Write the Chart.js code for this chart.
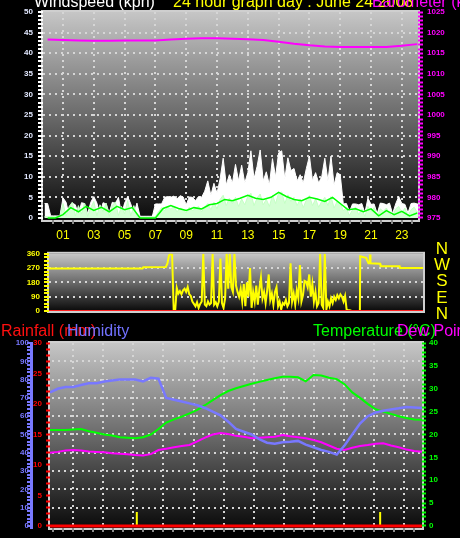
<!DOCTYPE html>
<html lang="en">
<head>
<meta charset="UTF-8" />
<script src="https://cdn.jsdelivr.net/npm/chart.js@4.4.1/dist/chart.umd.min.js"></script>
<style>
  html, body { margin: 0; padding: 0; background: #000; }
  #page { position: relative; width: 460px; height: 538px; overflow: hidden; background: #000;
          font-family: "Liberation Sans", Arial, sans-serif; }
  canvas { position: absolute; left: 0; }
  .t { position: absolute; white-space: nowrap; font-size: 16px; line-height: 16px; }
  #compass { position: absolute; left: 432px; top: 241px; width: 20px; text-align: center;
             color: #ffff00; font-size: 17px; line-height: 16.2px; }
</style>
</head>
<body>
<div id="page">
  <canvas id="windChart" width="460" height="245" style="top:0"></canvas>
  <canvas id="dirChart" width="460" height="75" style="top:245px"></canvas>
  <canvas id="climateChart" width="460" height="218" style="top:320px"></canvas>

  <div class="t" style="left:34px;top:-6px;color:#ffffff">Windspeed (kph)</div>
  <div class="t" style="left:173px;top:-6px;color:#ffff00">24 hour graph day : June 24 2008</div>
  <div class="t" style="left:372px;top:-6px;color:#ff00ff">Barometer (kPa)</div>

  <div id="compass">N<br>W<br>S<br>E<br>N</div>

  <div class="t" style="left:1px;top:323px;color:#ff1010">Rainfall (mm)</div>
  <div class="t" style="left:67px;top:323px;color:#7272ff">Humidity</div>
  <div class="t" style="left:313px;top:323px;color:#00ff00">Temperature (°C)</div>
  <div class="t" style="left:397px;top:323px;color:#ff00ff">Dew Point</div>
</div>
<script>
// ---- wind (kph), samples every 0.2 h starting at -0.2 h
const windHours = seq(-0.2, 0.2, 123)
const windGust = [
	3.5,
	3.5, 0.5, 0.5, 0.5, 0.5,
	4.9, 3.8, 0.5, 3.6, 3.2,
	0.8, 3.7, 3.5, 1.0, 3.8,
	5.2, 3.6, 0.8, 3.7, 3.4,
	1.2, 3.8, 3.5, 5.0, 0.8,
	3.6, 5.2, 3.4, 1.0, 3.6,
	0.4, 0.4, 0.4, 0.4, 0.4,
	3.4, 3.4, 3.4, 5.0, 5.2,
	5.0, 5.3, 4.6, 5.4, 5.1,
	3.2, 5.1, 5.0, 4.2, 5.2,
	5.0, 6.5, 9.0, 5.5, 8.4,
	6.0, 9.5, 14.5, 8.0, 10.5,
	8.5, 13.0, 9.0, 12.8, 8.5,
	11.0, 16.3, 9.5, 12.5, 16.5,
	9.0, 11.2, 8.0, 14.4, 10.0,
	15.8, 16.3, 9.5, 14.6, 11.5,
	12.0, 9.0, 10.5, 8.5, 12.0,
	15.0, 9.0, 11.0, 8.5, 10.0,
	14.5, 9.0, 15.0, 8.0, 11.0,
	10.5, 3.4, 3.5, 1.5, 3.4,
	3.4, 3.2, 3.5, 1.2, 4.8,
	3.3, 3.4, 1.0, 3.6, 3.5,
	3.2, 3.6, 1.0, 3.4, 5.2,
	3.5, 3.3, 1.2, 3.5, 3.6,
	3.4, 3.4,
]
const windSpeed = [
	0.3,
	0.3, 0.3, 0.3, 0.3, 0.3,
	3.5, 0.5, 2.8, 3.8, 0.5,
	3.0, 1.0, 3.6, 0.4, 2.5,
	4.0, 0.5, 3.2, 1.5, 3.6,
	0.4, 3.0, 3.9, 0.6, 2.8,
	1.0, 4.2, 0.5, 3.0, 0.4,
	0.2, 0.2, 0.2, 0.2, 0.2,
	0.3, 1.5, 2.5, 1.8, 2.6,
	2.2, 2.8, 1.5, 2.4, 2.0,
	1.2, 2.6, 1.8, 2.2, 2.8,
	1.5, 2.6, 3.5, 2.0, 3.8,
	2.2, 4.5, 5.5, 3.0, 4.8,
	3.5, 5.0, 2.8, 4.6, 3.2,
	5.2, 6.0, 3.0, 4.8, 5.8,
	3.2, 4.5, 2.8, 5.5, 3.5,
	6.0, 6.3, 3.5, 5.6, 4.0,
	5.0, 3.0, 4.6, 2.5, 4.4,
	5.4, 3.0, 4.6, 2.6, 4.0,
	5.0, 3.0, 5.2, 2.4, 4.0,
	3.5, 1.8, 2.4, 0.6, 2.0,
	2.6, 0.8, 2.2, 0.4, 2.8,
	1.5, 2.5, 0.4, 2.2, 1.6,
	2.4, 1.0, 0.4, 2.2, 2.8,
	1.2, 2.4, 0.4, 2.0, 2.6,
	1.4, 2.0,
]
// average wind, every half hour
const avgHours = seq(0, 0.5, 49)
const windAvg = [
	0, 0, 0.8, 2.5, 1.5, 2.8, 1.8, 2.6, 1.5, 2.8,
	2.0, 2.5, 0, 0, 0, 2.3, 3.0, 2.3, 1.8, 2.5,
	2.2, 3.2, 3.5, 4.5, 4.2, 4.8, 5.5, 4.8, 4.5, 5.0,
	6.2, 5.2, 4.5, 4.2, 5.0, 4.6, 4.0, 5.0, 3.5, 2.0,
	2.2, 1.5, 2.2, 0.5, 1.8, 0.8, 1.6, 0.5, 1.2,
]
// barometer, hourly
const baroHours = seq(0, 1, 25)
const baroValues = [
	1018.3, 1018.2, 1018.1, 1018.0, 1018.0, 1018.1, 1018.1, 1018.1, 1018.3, 1018.5,
	1018.6, 1018.6, 1018.5, 1018.4, 1018.2, 1017.8, 1017.3, 1016.9, 1016.6, 1016.5,
	1016.5, 1016.5, 1016.5, 1016.8, 1017.2,
]

// ---- wind direction (degrees)
const dirHoursA = [0, 6.0, 6.05, 7.5, 7.6, 7.7, 7.8, 7.9]
const dirValuesA = [268, 268, 275, 277, 300, 350, 360, 355]
const dirNoisyStart = 8.0
const dirNoisyStep = 0.1
const dirNoisy = [
	10, 8, 145, 110, 125, 105, 130, 140, 120, 150,
	105, 95, 60, 45, 30, 55, 20, 45, 60, 360,
	40, 30, 60, 40, 50, 360, 40, 55, 30, 60,
	330, 50, 20, 80, 360, 140, 360, 150, 120, 360,
	160, 120, 90, 140, 60, 170, 30, 180, 90, 270,
	20, 120, 60, 160, 40, 140, 210, 80, 120, 50,
	130, 230, 70, 110, 40, 120, 150, 30, 60, 10,
	50, 40, 70, 30, 50, 300, 60, 110, 40, 130,
	80, 290, 60, 100, 190, 185, 150, 230, 90, 170,
	60, 120, 30, 50, 360, 40, 20, 360, 10, 60,
	30, 80, 50, 90, 70, 100, 80, 105, 90, 60,
	95, 8, 5, 5, 2,
]
const dirGapHour = 19.6
const dirHoursB = [19.95, 19.97, 20.35, 20.5, 20.58, 20.6, 20.63, 21.25, 21.28, 22.5, 22.53, 24]
const dirValuesB = [0, 345, 335, 300, 300, 355, 300, 298, 282, 282, 270, 270]
const dirCalmHours = [0, 24]
const dirCalm = [0, 0]

// ---- humidity / temperature / dew point, every half hour
const climateHours = seq(0, 0.5, 49)
const humidity = [
	73, 75, 76, 76, 77, 78, 78, 79, 79.5, 80,
	80, 80, 79, 81, 80.5, 70, 69, 68, 67, 66,
	64.5, 62.5, 60.5, 57, 53, 51.5, 50, 47.5, 45.5, 45,
	45.8, 46, 46.5, 44.5, 43, 41.5, 40.5, 39, 44, 50,
	56, 60, 62, 63, 63.7, 64.3, 65, 64.8, 64.5,
]
const temperature = [
	21, 21, 21, 21.1, 21.2, 20.7, 20.4, 20.0, 19.8, 19.4,
	19.3, 19.2, 19.4, 20.0, 21.2, 22.6, 23.3, 23.9, 24.6, 25.4,
	26.4, 27.5, 28.6, 29.5, 30.1, 30.6, 31.1, 31.5, 31.9, 32.3,
	32.6, 32.6, 32.5, 31.6, 33.0, 32.9, 32.4, 32.1, 31.0, 29.2,
	28.0, 26.7, 25.5, 25.0, 24.5, 24.0, 23.6, 23.3, 23.2,
]
const dewPoint = [
	16, 16.2, 16.5, 16.6, 16.5, 16.3, 16.2, 16.1, 15.9, 15.8,
	15.7, 15.5, 15.4, 15.7, 16.6, 16.9, 17.2, 17.5, 17.7, 18.5,
	19.3, 20.0, 20.3, 20.1, 19.7, 19.5, 19.2, 19.3, 19.4, 19.5,
	19.9, 19.6, 19.4, 19.2, 18.8, 18.3, 17.6, 16.9, 16.6, 17.1,
	17.5, 17.7, 18.0, 18.1, 17.6, 17.2, 16.7, 16.4, 16.2,
]
const rainHours = [0, 24]
const rainfall = [0, 0]
const rainTipHours = [5.6, 21.3]
const rainTipValues = [2.3, 2.3]

const hourLabels = ['01', '03', '05', '07', '09', '11', '13', '15', '17', '19', '21', '23']

// ---------------------------------------------------------------
function seq(start, step, count) {
	return Array.from({ length: count }, (_, i) => +(start + i * step).toFixed(4))
}
function zip(hours, values) {
	return hours.map((h, i) => ({ x: h, y: values[i] }))
}
function setTicks(list) {
	return (s) => { s.ticks = list.map((t) => (typeof t === 'object' ? t : { value: t })) }
}
const dot = '#d6d6d6'
const none = 'rgba(0,0,0,0)'
const mult = (v, m) => Math.abs(v / m - Math.round(v / m)) < 1e-6

Chart.defaults.font.family = '"Liberation Sans", Arial, sans-serif'

const panelBg = {
	id: 'panelBg',
	beforeDraw(chart) {
		const { ctx, chartArea: a } = chart
		const g = ctx.createLinearGradient(0, a.top, 0, a.bottom)
		g.addColorStop(0, '#c6c6c6')
		g.addColorStop(0.5, '#6a6a6a')
		g.addColorStop(1, '#0a0a0a')
		ctx.save()
		ctx.fillStyle = g
		ctx.fillRect(a.left, a.top, a.right - a.left, a.bottom - a.top)
		ctx.strokeStyle = '#cfcfcf'
		ctx.lineWidth = 2
		ctx.strokeRect(a.left - 1, a.top - 1, a.right - a.left + 2, a.bottom - a.top + 2)
		ctx.restore()
	},
}

const base = {
	responsive: false,
	animation: false,
	events: [],
	plugins: { legend: { display: false }, tooltip: { enabled: false } },
	elements: { point: { radius: 0 }, line: { tension: 0 } },
}

// tick lists
const topXTicks = seq(1 / 3, 2 / 3, 36).map((v) => ({ value: v, mark: mult(v, 1) && Math.round(v) % 2 === 1 }))
const bottomGrid = 1.94
const bottomXTicks = seq(1.5 - 2 * bottomGrid / 3, bottomGrid / 3, 40)
	.map((v, i) => ({ value: v, mark: i % 3 === 2 }))
	.filter((t) => t.value >= 0 && t.value <= 24)

// ---- top chart: wind + barometer
new Chart(document.getElementById('windChart'), {
	type: 'line',
	data: {
		datasets: [
			{ data: zip(baroHours, baroValues), yAxisID: 'baro', borderColor: '#ff00ff', borderWidth: 2, order: 0 },
			{ data: zip(avgHours, windAvg), yAxisID: 'wind', borderColor: '#00ff00', borderWidth: 1.5, order: 1 },
			{ data: zip(windHours, windSpeed), yAxisID: 'wind', borderColor: '#c4ffc4', backgroundColor: '#d4ffd4', fill: 'origin', borderWidth: 1, order: 2 },
			{ data: zip(windHours, windGust), yAxisID: 'wind', borderColor: '#ffffff', backgroundColor: '#ffffff', fill: 'origin', borderWidth: 1, order: 3 },
		],
	},
	options: {
		...base,
		layout: { padding: { top: 12, left: 0, right: 0, bottom: 0 } },
		scales: {
			x: {
				type: 'linear', min: -0.3, max: 24.05, offset: false,
				afterBuildTicks: setTicks(topXTicks),
				afterFit: (s) => { s.height = 25 },
				border: { display: false, dash: [2, 4] },
				grid: { color: (c) => (c.tick && c.tick.mark ? dot : none), lineWidth: 2, tickColor: '#8a8a8a', tickLength: 4, tickWidth: 2 },
				ticks: {
					autoSkip: false, maxRotation: 0, color: '#ffff00', font: { size: 12 }, padding: 4,
					callback: (v, i, t) => (t[i].mark ? hourLabels[(Math.round(v) - 1) / 2] : ''),
				},
			},
			wind: {
				position: 'left', min: -0.5, max: 50,
				afterBuildTicks: setTicks(seq(0, 1, 51)),
				afterFit: (s) => { s.width = 43 },
				border: { display: false, dash: [2, 4] },
				grid: {
					color: (c) => (c.tick && mult(c.tick.value, 5) && c.tick.value > 0 && c.tick.value < 50 ? dot : none),
					lineWidth: 2, tickColor: '#ffffff', tickLength: 5, tickWidth: 2,
				},
				ticks: { autoSkip: false, color: '#e2e8ff', font: { size: 8, weight: 'bold' }, padding: 5, callback: (v) => (mult(v, 5) ? v : '') },
			},
			baro: {
				position: 'right', min: 974.5, max: 1025,
				afterBuildTicks: setTicks(seq(975, 1, 51)),
				afterFit: (s) => { s.width = 42 },
				border: { display: false },
				grid: { drawOnChartArea: false, color: '#ff00ff', tickColor: '#ff00ff', tickLength: 5, tickWidth: 2 },
				ticks: { autoSkip: false, color: '#ff00ff', font: { size: 8, weight: 'bold' }, padding: 4, callback: (v) => (mult(v, 5) ? v : '') },
			},
		},
	},
	plugins: [panelBg],
})

// ---- middle chart: wind direction
const dirData = zip(dirHoursA, dirValuesA)
	.concat(dirNoisy.map((v, i) => ({ x: +(dirNoisyStart + i * dirNoisyStep).toFixed(2), y: v })))
	.concat([{ x: dirGapHour, y: null }])
	.concat(zip(dirHoursB, dirValuesB))

new Chart(document.getElementById('dirChart'), {
	type: 'line',
	data: {
		datasets: [
			{ data: dirData, borderColor: '#ffff00', borderWidth: 2, order: 1 },
			{ data: zip(dirCalmHours, dirCalm), borderColor: '#ff2020', borderWidth: 2, order: 0 },
		],
	},
	options: {
		...base,
		layout: { padding: { top: 2, left: 0, right: 37, bottom: 9 } },
		scales: {
			x: { type: 'linear', min: 0, max: 24, display: false },
			y: {
				min: 0, max: 360,
				afterBuildTicks: setTicks(seq(0, 22.5, 17)),
				afterFit: (s) => { s.width = 49 },
				border: { display: false, dash: [2, 4] },
				grid: {
					color: (c) => (c.tick && mult(c.tick.value, 90) && c.tick.value > 0 && c.tick.value < 360 ? dot : none),
					lineWidth: 2, tickColor: '#ffff00', tickLength: 5, tickWidth: 2,
				},
				ticks: { autoSkip: false, color: '#ffff00', font: { size: 8, weight: 'bold' }, padding: 4, callback: (v) => (mult(v, 90) ? v : '') },
			},
		},
	},
	plugins: [panelBg],
})

// ---- bottom chart: rain, humidity, temperature, dew point
const tipData = []
rainTipHours.forEach((h, i) => {
	tipData.push({ x: h, y: 0 }, { x: h, y: rainTipValues[i] }, { x: h, y: null })
})

new Chart(document.getElementById('climateChart'), {
	type: 'line',
	data: {
		datasets: [
			{ data: zip(rainHours, rainfall), yAxisID: 'rain', borderColor: '#ff0000', borderWidth: 3, order: 0 },
			{ data: tipData, yAxisID: 'rain', borderColor: '#ffff00', borderWidth: 2, order: 1 },
			{ data: zip(climateHours, humidity), yAxisID: 'hum', borderColor: '#7878ff', borderWidth: 2.5, order: 2 },
			{ data: zip(climateHours, temperature), yAxisID: 'temp', borderColor: '#00ff00', borderWidth: 2, order: 3 },
			{ data: zip(climateHours, dewPoint), yAxisID: 'temp', borderColor: '#ff00ff', borderWidth: 2, order: 4 },
		],
	},
	options: {
		...base,
		layout: { padding: { top: 23, left: 0, right: 0, bottom: 0 } },
		scales: {
			x: {
				type: 'linear', min: 0, max: 24, offset: false,
				afterBuildTicks: setTicks(bottomXTicks),
				afterFit: (s) => { s.height = 10 },
				border: { display: false, dash: [2, 4] },
				grid: { color: (c) => (c.tick && c.tick.mark ? dot : none), lineWidth: 2, tickColor: '#8a8a8a', tickLength: 4, tickWidth: 2 },
				ticks: { display: false },
			},
			hum: {
				position: 'left', weight: 2, min: -1.1, max: 100,
				afterBuildTicks: setTicks(seq(0, 2, 51)),
				afterFit: (s) => { s.width = 31 },
				border: { display: true, color: '#7878ff', width: 3, dash: [2, 4] },
				grid: {
					color: (c) => (c.tick && mult(c.tick.value, 10) && c.tick.value > 0 && c.tick.value < 100 ? dot : none),
					lineWidth: 2, tickColor: '#7878ff', tickLength: 4, tickWidth: 2,
				},
				ticks: { autoSkip: false, color: '#7878ff', font: { size: 8, weight: 'bold' }, padding: -2, callback: (v) => (mult(v, 10) ? v : '') },
			},
			rain: {
				position: 'left', weight: 1, min: -0.33, max: 30,
				afterBuildTicks: setTicks(seq(0, 1, 31)),
				afterFit: (s) => { s.width = 19 },
				border: { display: false },
				grid: { drawOnChartArea: false, color: '#ff0000', tickColor: '#ff0000', tickLength: 4, tickWidth: 2 },
				ticks: { autoSkip: false, color: '#ff0000', font: { size: 8, weight: 'bold' }, padding: 4, callback: (v) => (mult(v, 5) ? v : '') },
			},
			temp: {
				position: 'right', min: -0.44, max: 40,
				afterBuildTicks: setTicks(seq(0, 1, 41)),
				afterFit: (s) => { s.width = 38 },
				border: { display: false },
				grid: { drawOnChartArea: false, color: '#00ff00', tickColor: '#00ff00', tickLength: 4, tickWidth: 2 },
				ticks: { autoSkip: false, color: '#00ff00', font: { size: 8, weight: 'bold' }, padding: 3, callback: (v) => (mult(v, 5) ? v : '') },
			},
		},
	},
	plugins: [panelBg],
})
</script>
</body>
</html>
